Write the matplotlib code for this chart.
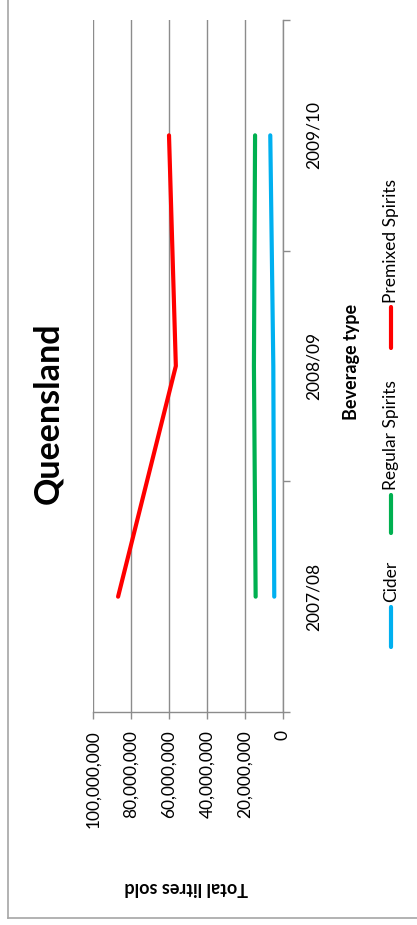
import matplotlib.pyplot as plt
from matplotlib.lines import Line2D
from matplotlib.ticker import FuncFormatter

plt.rcParams['font.family'] = ['Lato', 'DejaVu Sans']

# Litres sold per financial year
years = ["2007/08", "2008/09", "2009/10"]
cider = [4.6e6, 5.1e6, 6.7e6]
regular_spirits = [14.4e6, 15.3e6, 14.7e6]
premixed_spirits = [86.8e6, 56.4e6, 60.0e6]

series_names = ["Cider", "Regular Spirits", "Premixed Spirits"]
series_colors = ["#00B0F0", "#00B050", "#FF0000"]

W, H = 417, 925
fig = plt.figure(figsize=(W / 100, H / 100), dpi=100)


def px(x, y):
    # pixel position (from top-left) to figure fraction
    return x / W, 1 - y / H


# chart is laid out sideways: values run right-to-left, years bottom-to-top
left, top = px(93, 20)
right, bottom = px(283, 712)
ax = fig.add_axes([left, bottom, right - left, top - bottom])

pos = list(range(len(years)))
for vals, color in zip([cider, regular_spirits, premixed_spirits], series_colors):
    ax.plot(vals, pos, color=color, lw=3.0, solid_capstyle='round',
            solid_joinstyle='round', zorder=3)

ax.set_xlim(100e6, 0)
ax.set_ylim(-0.5, 2.5)

grid_c = "#8c8c8c"
ax.set_xticks([0, 20e6, 40e6, 60e6, 80e6, 100e6])
ax.xaxis.set_major_formatter(FuncFormatter(lambda v, p: f"{int(v):,}"))
ax.tick_params(axis='x', direction='out', length=5, width=1, color=grid_c,
               labelsize=12.5, pad=8, labelrotation=90)
ax.grid(axis='x', color=grid_c, lw=1)

ax.yaxis.tick_right()
ax.set_yticks([-0.5, 0.5, 1.5, 2.5])
ax.set_yticklabels([])
ax.set_yticks(pos, minor=True)
ax.set_yticklabels(years, minor=True, rotation=90, va='center', ha='left')
ax.tick_params(axis='y', which='major', direction='out', length=5, width=1,
               color=grid_c)
ax.tick_params(axis='y', which='minor', length=0, pad=16, labelsize=12.5)

for s in ['top', 'left']:
    ax.spines[s].set_visible(False)
for s in ['right', 'bottom']:
    ax.spines[s].set_color(grid_c)
    ax.spines[s].set_linewidth(1)

# title and value-axis caption
fig.text(*px(48, 413), "Queensland", rotation=90, fontsize=24.5,
         fontweight='bold', ha='center', va='center')
fig.text(*px(186, 887), "Total litres sold", rotation=180, fontsize=13,
         fontweight='bold', ha='center', va='center')

# legend, turned on its side
fig.text(*px(351, 362), "Beverage type", rotation=90, fontsize=13,
         fontweight='bold', ha='center', va='center')
entries = [(647, 607, 602), (533, 495, 490), (348, 307, 303)]
for (y0, y1, yt), name, color in zip(entries, series_names, series_colors):
    x0, fy0 = px(391, y0)
    _, fy1 = px(391, y1)
    fig.add_artist(Line2D([x0, x0], [fy0, fy1], color=color, lw=3.0,
                          solid_capstyle='round', transform=fig.transFigure))
    fig.text(*px(391, yt), name, rotation=90, fontsize=12.5,
             ha='center', va='bottom')

# chart frame
frame_c = "#a6a6a6"
fx, fy_top = px(8, 0)
_, fy_bot = px(8, 918)
fig.add_artist(Line2D([fx, fx], [fy_top, fy_bot], color=frame_c, lw=1.2,
                      transform=fig.transFigure))
fig.add_artist(Line2D([fx, 1], [fy_bot, fy_bot], color=frame_c, lw=1.2,
                      transform=fig.transFigure))

fig.savefig("out.png", dpi=100)
